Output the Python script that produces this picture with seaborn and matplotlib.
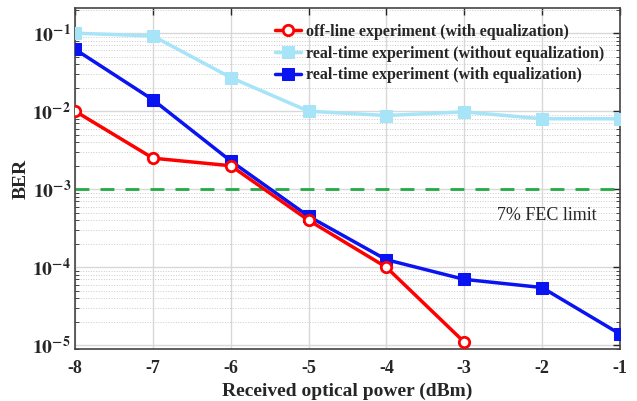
import numpy as np
import pandas as pd
import matplotlib
matplotlib.use("Agg")
import matplotlib.pyplot as plt
import seaborn as sns
from matplotlib.ticker import LogLocator, NullFormatter

# received optical power (dBm)
power = [-8, -7, -6, -5, -4, -3, -2, -1]
power_offline = [-8, -7, -6, -5, -4, -3]

# BER values
ber_offline_eq = [1.0e-2, 2.5e-3, 2.0e-3, 4.0e-4, 1.0e-4, 1.1e-5]
ber_rt_noeq = [1.0e-1, 9.2e-2, 2.7e-2, 1.0e-2, 8.8e-3, 9.8e-3, 8.0e-3, 8.0e-3]
ber_rt_eq = [6.2e-2, 1.4e-2, 2.3e-3, 4.5e-4, 1.25e-4, 7.0e-5, 5.5e-5, 1.4e-5]

fec_limit = 1e-3

labels = ["off-line experiment (with equalization)",
          "real-time experiment (without equalization)",
          "real-time experiment (with equalization)"]

sns.set_style("white")
plt.rcParams['font.family'] = ['Liberation Serif', 'DejaVu Serif']
plt.rcParams['mathtext.fontset'] = 'stix'

fig, ax = plt.subplots(figsize=(6.37, 4.01), dpi=100)
fig.subplots_adjust(left=0.118, right=0.973, top=0.98, bottom=0.13)

ax.set_yscale("log")

sns.lineplot(x=power_offline, y=ber_offline_eq, ax=ax, color="#ff0000", lw=2.5,
             marker="o", markersize=7.5, markerfacecolor="white",
             markeredgecolor="#ff0000", markeredgewidth=2, label=labels[0], zorder=4)
sns.lineplot(x=power, y=ber_rt_noeq, ax=ax, color="#a8e4f8", lw=2.5,
             marker="s", markersize=8, markeredgecolor="#a8e4f8", label=labels[1], zorder=3)
sns.lineplot(x=power, y=ber_rt_eq, ax=ax, color="#0a14f0", lw=2.5,
             marker="s", markersize=8, markeredgecolor="#0a14f0", label=labels[2], zorder=3)

# FEC limit line runs a bit past the right spine
ax.plot([-8, -0.95], [fec_limit, fec_limit], color="#22aa44", lw=2, ls=(0, (5, 4)),
        clip_on=False, zorder=2)
ax.text(-1.3, 4.6e-4, "7% FEC limit", fontsize=13, ha="right", va="center")

ax.set_xlim(-8, -1)
ax.set_ylim(0.9e-5, 0.21)
ax.set_xticks(power)
ax.set_xticklabels([str(p) for p in power], fontweight="bold")
ax.yaxis.set_major_locator(LogLocator(base=10, numticks=10))
ax.yaxis.set_minor_locator(LogLocator(base=10, subs=np.arange(2, 10), numticks=10))
ax.yaxis.set_minor_formatter(NullFormatter())
ax.set_yticks([1e-5, 1e-4, 1e-3, 1e-2, 1e-1])
ax.set_yticklabels([r"$\mathbf{10^{-%d}}$" % k for k in [5, 4, 3, 2, 1]])

ax.tick_params(axis="x", which="major", labelsize=13, direction="in",
               top=True, length=5, width=1, pad=8)
ax.tick_params(axis="y", which="major", labelsize=14, direction="in",
               right=True, length=5, width=1, pad=3)
ax.tick_params(axis="y", which="minor", direction="in", right=True, left=True, length=3)

ax.grid(True, which="major", color="#d8d8d8", lw=1)
ax.grid(True, which="minor", axis="y", color="#cccccc", lw=0.7, ls=":")

for s in ax.spines.values():
    s.set_color("#444444")
    s.set_linewidth(1.2)

ax.set_xlabel("Received optical power (dBm)", fontsize=14, fontweight="bold")
ax.set_ylabel("BER", fontsize=14, fontweight="bold", labelpad=2)

leg = ax.legend(loc="upper right", frameon=False, handlelength=1.6,
                handletextpad=0.3, labelspacing=0.35, borderaxespad=0.6,
                prop={"weight": "bold", "size": 11.5})

fig.savefig("out.png", dpi=100)
